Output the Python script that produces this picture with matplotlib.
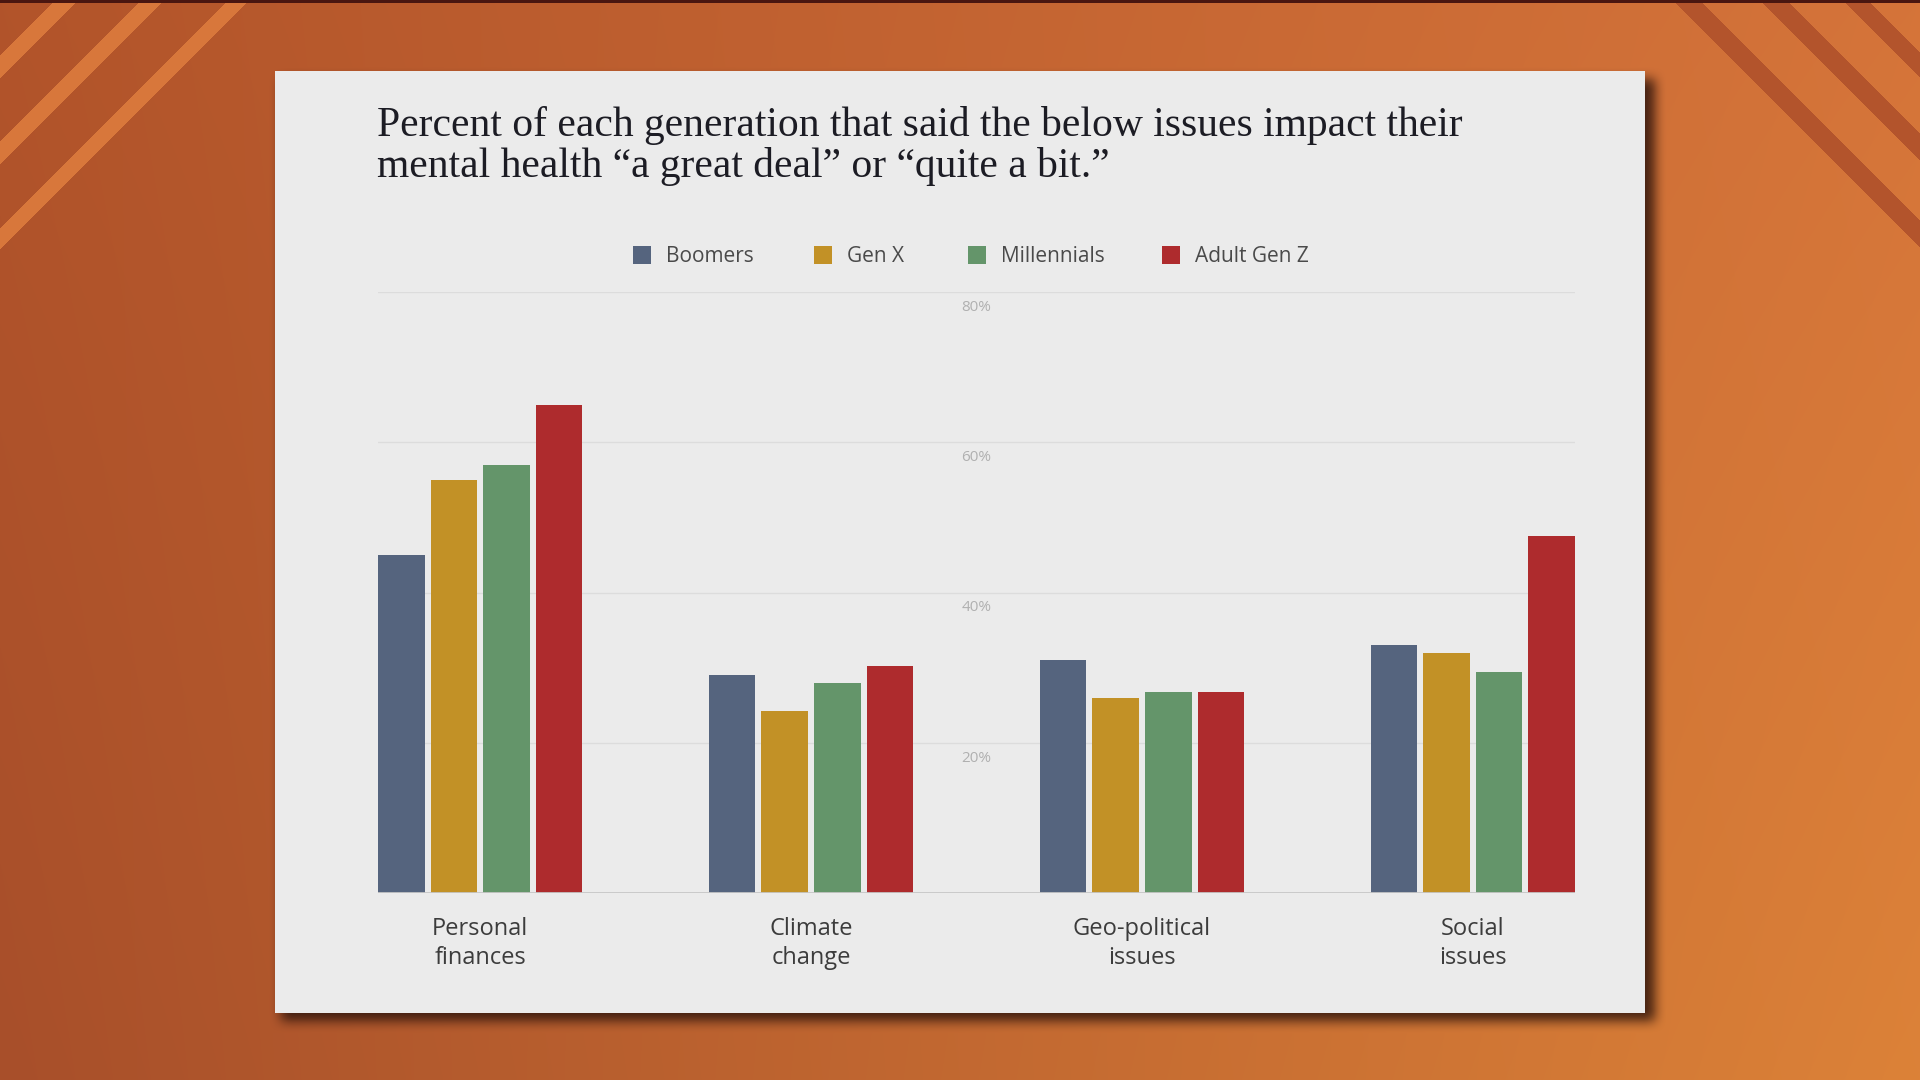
import numpy as np
import matplotlib
matplotlib.use("Agg")
import matplotlib.pyplot as plt
from matplotlib.patches import Rectangle

# ---------------- data ----------------
categories = ["Personal\nfinances", "Climate\nchange", "Geo-political\nissues", "Social\nissues"]
series_names = ["Boomers", "Gen X", "Millennials", "Adult Gen Z"]
boomers = [45, 29, 31, 33]
gen_x = [55, 24.2, 26, 32]
millennials = [57, 28, 26.8, 29.4]
gen_z = [65, 30.2, 26.8, 47.5]
series_values = [boomers, gen_x, millennials, gen_z]
colors = ["#55647e", "#c29126", "#64956a", "#ae2b2d"]
y_ticks = [20, 40, 60, 80]
y_tick_labels = ["20%", "40%", "60%", "80%"]
title_lines = ["Percent of each generation that said the below issues impact their",
               "mental health \u201ca great deal\u201d or \u201cquite a bit.\u201d"]

W, H = 1920, 1080
fig = plt.figure(figsize=(19.2, 10.8), dpi=100)

# ---------------- background (decor) ----------------
yy, xx = np.mgrid[0:H, 0:W].astype(float)
fx = xx / (W - 1)
fy = yy / (H - 1)
def hexrgb(h):
    h = h.lstrip("#")
    return np.array([int(h[i:i + 2], 16) for i in (0, 2, 4)]) / 255.0
TL, TR, BL, BR = hexrgb("#b2542a"), hexrgb("#d5743a"), hexrgb("#a84f2a"), hexrgb("#dc8238")
img = ((1 - fx)[..., None] * (1 - fy)[..., None] * TL + fx[..., None] * (1 - fy)[..., None] * TR
       + (1 - fx)[..., None] * fy[..., None] * BL + fx[..., None] * fy[..., None] * BR)

light = hexrgb("#d8773b")
dark = hexrgb("#b3542c")
for c, hw in [(66, 12), (152, 12), (238, 11)]:
    m = np.abs(xx + yy - c) < hw
    img[m] = light
for c, hw in [(1686, 14), (1773, 14), (1855, 13)]:
    m = np.abs(xx - yy - c) < hw
    img[m] = dark
img[0:3, :] = hexrgb("#4a1610")

# panel shadow
px0, py0, px1, py1 = 275, 71, 1645, 1013
mask = np.zeros((H, W))
mask[py0 + 8:py1 + 8, px0 + 6:px1 + 10] = 1.0
def box_blur(a, r, axis):
    c = np.cumsum(np.pad(a, [(r + 1, r) if ax == axis else (0, 0) for ax in range(2)], mode="edge"), axis=axis)
    if axis == 0:
        return (c[2 * r + 1:, :] - c[:-2 * r - 1, :]) / (2 * r + 1)
    return (c[:, 2 * r + 1:] - c[:, :-2 * r - 1]) / (2 * r + 1)
for _ in range(2):
    mask = box_blur(mask, 6, 0)
    mask = box_blur(mask, 6, 1)
shadow_col = hexrgb("#2e140c")
a = (0.85 * mask)[..., None]
img = img * (1 - a) + shadow_col * a
img[py0:py1, px0:px1] = hexrgb("#ebebeb")

bg = fig.add_axes([0, 0, 1, 1], zorder=-10)
bg.imshow(img, extent=(0, W, H, 0), interpolation="nearest", aspect="auto")
bg.set_xlim(0, W)
bg.set_ylim(H, 0)
bg.axis("off")

# ---------------- title ----------------
title_font = dict(family=["Liberation Serif", "DejaVu Serif"], fontsize=29.9, color="#1c1c24")
fig.text(377 / W, 1 - 136 / H, title_lines[0], ha="left", va="baseline", **title_font)
fig.text(377 / W, 1 - 177 / H, title_lines[1], ha="left", va="baseline", **title_font)

# ---------------- legend (manual) ----------------
sans = ["Open Sans", "DejaVu Sans"]
leg_sq_x = [633, 814, 968, 1162]
leg_y = 255
sq = 18
for xs, name, col in zip(leg_sq_x, series_names, colors):
    fig.add_artist(Rectangle((xs / W, 1 - (leg_y + sq / 2) / H), sq / W, sq / H,
                             transform=fig.transFigure, facecolor=col, edgecolor="none"))
    fig.text((xs + sq + 15) / W, 1 - (leg_y + 1) / H, name, ha="left", va="center",
             family=sans, fontsize=15, color="#4a4a4a")

# ---------------- chart ----------------
ax = fig.add_axes([378 / W, 1 - 893 / H, 1197 / W, 601 / H])
ax.set_facecolor("none")
x = np.arange(len(categories))
step, width = 0.159, 0.141
for i, (vals, col, name) in enumerate(zip(series_values, colors, series_names)):
    ax.bar(x + (i - 1.5) * step, vals, width=width, color=col, label=name, zorder=3, linewidth=0)

ax.set_xlim(-0.309, 3.309)
ax.set_ylim(0, 80)
for v in y_ticks:
    ax.axhline(v, color="#dcdcdc", lw=1, zorder=1)
ax.axhline(0, color="#c6c6c6", lw=2, zorder=4)
for v, lab in zip(y_ticks, y_tick_labels):
    ax.annotate(lab, (1.5, v), xytext=(0, -11), textcoords="offset points", ha="center", va="center",
                family=sans, fontsize=11, color="#b0b0b0")

ax.set_yticks([])
ax.set_xticks(x)
ax.set_xticklabels(categories, family=sans, fontsize=17, color="#3c3c3c", linespacing=1.3)
ax.tick_params(axis="x", length=0, pad=17)
for s in ax.spines.values():
    s.set_visible(False)

fig.savefig("out.png", dpi=100)
